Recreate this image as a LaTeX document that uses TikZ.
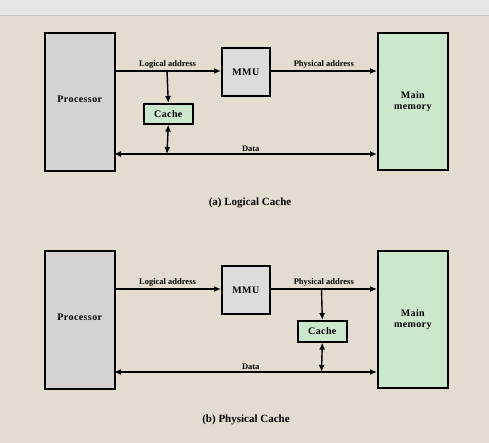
\documentclass[tikz,border=0pt]{standalone}
\usepackage{fontspec}
\setmainfont{Liberation Serif}
\usetikzlibrary{arrows.meta}
\definecolor{paper}{HTML}{E3DCCF}
\definecolor{topbar}{HTML}{E6E6E6}
\definecolor{procgray}{HTML}{D3D3D3}
\definecolor{mmugray}{HTML}{DCDCDC}
\definecolor{memgreen}{HTML}{CCE8CC}
\begin{document}
\begin{tikzpicture}[x=1pt,y=-1pt,
  box/.style={draw=black,line width=1.6pt,inner sep=0pt,anchor=north west},
  lbl/.style={font=\bfseries\fontsize{10}{11}\selectfont\addfontfeature{LetterSpace=4},align=center},
  small/.style={font=\bfseries\fontsize{8.5}{9}\selectfont,inner sep=1pt},
  captext/.style={font=\bfseries\fontsize{11}{12}\selectfont},
  conn/.style={line width=1.4pt,-{Latex[length=7pt,width=6pt]}},
  dconn/.style={line width=1.4pt,{Latex[length=7pt,width=6pt]}-{Latex[length=7pt,width=6pt]}}]
\useasboundingbox (0,0) rectangle (489,443);
\fill[paper] (0,0) rectangle (489,443);
\fill[topbar] (0,0) rectangle (489,15);
\draw[color=black!22,line width=0.6pt] (0,15.3) -- (489,15.3);

% ---------- (a) ----------
\node[box,fill=procgray,minimum width=70pt,minimum height=138pt] (procA) at (44,32) {};
\node[lbl] at ([yshift=3pt]procA.center) {Processor};
\node[box,fill=mmugray,minimum width=48pt,minimum height=48pt] (mmuA) at (221,47) {};
\node[lbl] at (mmuA.center) {MMU};
\node[box,fill=memgreen,minimum width=70pt,minimum height=137pt] (memA) at (377,32) {};
\node[lbl] at (memA.center) {Main\\memory};
\node[box,fill=memgreen,minimum width=49pt,minimum height=20pt] (cacheA) at (143,103) {};
\node[lbl] at (cacheA.center) {Cache};
\coordinate (lA) at (114,71);
\coordinate (tapA) at (167,71);
\coordinate (dA1) at (114,154);
\coordinate (dA2) at (377,154);
\coordinate (dAc) at (167,154);
\draw[conn] (lA) -- (mmuA.west |- lA) node[small,midway,above=1pt] {Logical address};
\draw[conn] (mmuA.east |- lA) -- (memA.west |- lA) node[small,midway,above=1pt] {Physical address};
\draw[conn] (tapA) -- (cacheA.north);
\draw[dconn] (dA1) -- (dA2) node[small,pos=0.52,above=1pt] {Data};
\draw[dconn] (cacheA.south) -- (dAc);
\node[captext] (capA) at (250,203) {(a) Logical Cache};

% ---------- (b) ----------
\node[box,fill=procgray,minimum width=70pt,minimum height=138pt] (procB) at (44,250) {};
\node[lbl] at ([yshift=3pt]procB.center) {Processor};
\node[box,fill=mmugray,minimum width=48pt,minimum height=48pt] (mmuB) at (221,265) {};
\node[lbl] at (mmuB.center) {MMU};
\node[box,fill=memgreen,minimum width=70pt,minimum height=137pt] (memB) at (377,250) {};
\node[lbl] at (memB.center) {Main\\memory};
\node[box,fill=memgreen,minimum width=49pt,minimum height=21pt] (cacheB) at (297,320) {};
\node[lbl] at (cacheB.center) {Cache};
\coordinate (lB) at (114,289);
\coordinate (tapB) at (321.5,289);
\coordinate (dB1) at (114,372);
\coordinate (dB2) at (377,372);
\coordinate (dBc) at (321.5,372);
\draw[conn] (lB) -- (mmuB.west |- lB) node[small,midway,above=1pt] {Logical address};
\draw[conn] (mmuB.east |- lB) -- (memB.west |- lB) node[small,midway,above=1pt] {Physical address};
\draw[conn] (tapB) -- (cacheB.north);
\draw[dconn] (dB1) -- (dB2) node[small,pos=0.52,above=1pt] {Data};
\draw[dconn] (cacheB.south) -- (dBc);
\node[captext] (capB) at (246,420) {(b) Physical Cache};
\end{tikzpicture}
\end{document}
